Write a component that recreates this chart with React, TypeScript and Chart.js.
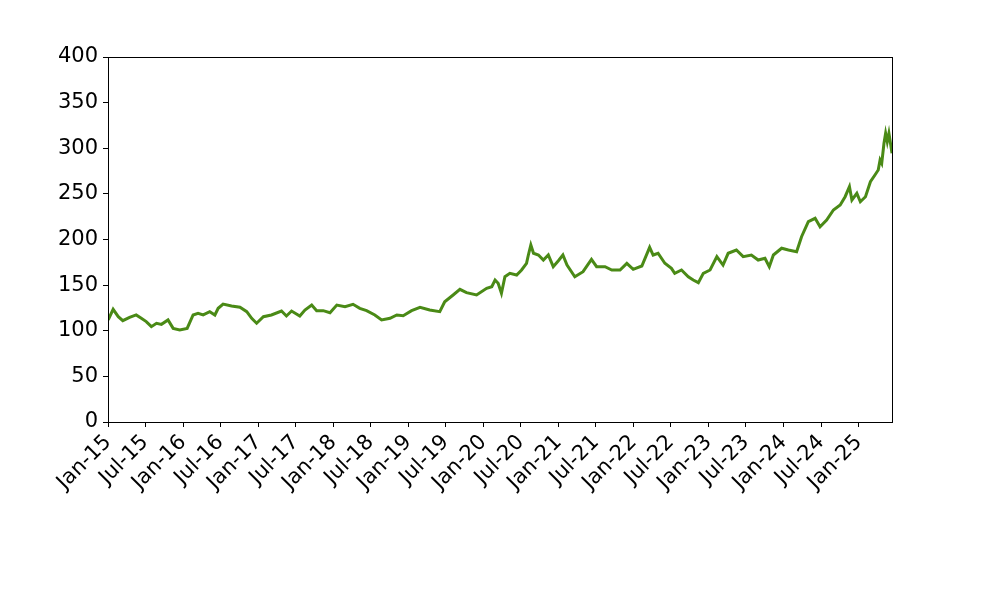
import React, { useEffect, useRef } from "react";
import { Chart, registerables } from "chart.js";

Chart.register(...registerables);

const dates: string[] = [
  "2015-01-02","2015-01-26","2015-02-20","2015-03-14","2015-04-16","2015-05-18","2015-06-12","2015-07-06",
  "2015-07-31","2015-08-25","2015-09-18","2015-10-20","2015-11-14","2015-12-16","2016-01-21","2016-02-19",
  "2016-03-14","2016-04-08","2016-05-10","2016-06-04","2016-06-20","2016-07-14","2016-08-24","2016-10-04",
  "2016-11-06","2016-11-30","2016-12-24","2017-01-26","2017-03-06","2017-04-24","2017-05-18","2017-06-12",
  "2017-07-22","2017-08-16","2017-09-18","2017-10-12","2017-11-13","2017-12-16","2018-01-18","2018-02-27",
  "2018-04-07","2018-05-10","2018-06-12","2018-07-22","2018-08-24","2018-10-04","2018-11-06","2018-12-07",
  "2019-01-17","2019-02-27","2019-04-15","2019-06-03","2019-06-27","2019-08-07","2019-09-09","2019-10-11",
  "2019-11-29","2020-01-17","2020-02-11","2020-02-27","2020-03-13","2020-03-29","2020-04-15","2020-05-09",
  "2020-06-11","2020-07-05","2020-07-29","2020-08-07","2020-08-19","2020-09-01","2020-09-25","2020-10-19",
  "2020-11-12","2020-12-06","2020-12-31","2021-01-22","2021-02-11","2021-03-21","2021-04-30","2021-06-10",
  "2021-07-05","2021-08-15","2021-09-17","2021-10-27","2021-11-29","2021-12-30","2022-02-10","2022-03-20",
  "2022-04-06","2022-04-30","2022-06-02","2022-07-04","2022-07-20","2022-08-22","2022-09-24","2022-10-18",
  "2022-11-12","2022-12-06","2023-01-08","2023-02-10","2023-03-12","2023-04-06","2023-05-16","2023-06-18",
  "2023-07-28","2023-08-30","2023-10-02","2023-10-23","2023-11-12","2023-12-22","2024-01-24","2024-03-04",
  "2024-03-28","2024-04-30","2024-06-02","2024-06-26","2024-07-28","2024-08-30","2024-10-02","2024-10-26",
  "2024-11-16","2024-11-28","2024-12-22","2025-01-08","2025-02-02","2025-02-26","2025-03-20","2025-04-05",
  "2025-04-14","2025-04-22","2025-05-03","2025-05-11","2025-05-19","2025-05-27","2025-06-05","2025-06-11",
];

const prices: number[] = [
  111.8, 123.5, 115.4, 111.0, 114.7, 117.3, 113.6, 110.0,
  104.5, 108.2, 107.0, 111.8, 102.6, 100.8, 102.6, 117.3,
  119.1, 117.3, 120.9, 117.3, 124.6, 129.3, 127.1, 125.7,
  120.9, 113.6, 108.2, 115.4, 117.3, 121.6, 116.2, 121.6,
  116.2, 122.7, 128.2, 122.0, 122.0, 119.8, 128.2, 126.4,
  129.0, 124.6, 122.0, 117.3, 111.8, 113.6, 117.3, 116.5,
  122.0, 125.7, 122.7, 120.9, 131.8, 139.2, 145.4, 141.7,
  139.2, 146.5, 148.3, 155.6, 152.0, 141.0, 159.2, 162.9,
  161.1, 166.6, 173.9, 183.0, 194.0, 184.9, 183.0, 177.5,
  183.0, 170.2, 176.8, 183.0, 172.0, 159.2, 164.7, 178.3,
  170.2, 170.2, 166.6, 166.6, 173.9, 167.3, 171.0, 191.4,
  183.0, 184.9, 173.9, 168.4, 162.9, 166.6, 159.2, 155.6,
  152.7, 162.9, 166.6, 181.2, 172.0, 184.9, 188.5, 181.2,
  183.0, 177.5, 179.4, 170.2, 183.0, 190.4, 188.5, 186.6,
  203.1, 219.5, 223.2, 214.0, 221.4, 232.3, 237.8, 246.9,
  257.9, 243.3, 250.6, 241.4, 246.9, 263.3, 270.7, 276.2,
  287.1, 283.5, 305.4, 316.4, 307.2, 316.4, 303.6, 294.5,
];

const tickDates: string[] = [
  "2015-01-01","2015-07-01","2016-01-01","2016-07-01","2017-01-01","2017-07-01","2018-01-01",
  "2018-07-01","2019-01-01","2019-07-01","2020-01-01","2020-07-01","2021-01-01","2021-07-01",
  "2022-01-01","2022-07-01","2023-01-01","2023-07-01","2024-01-01","2024-07-01","2025-01-01",
];
const tickLabels: string[] = [
  "Jan-15","Jul-15","Jan-16","Jul-16","Jan-17","Jul-17","Jan-18",
  "Jul-18","Jan-19","Jul-19","Jan-20","Jul-20","Jan-21","Jul-21",
  "Jan-22","Jul-22","Jan-23","Jul-23","Jan-24","Jul-24","Jan-25",
];

const yTicks: number[] = [0, 50, 100, 150, 200, 250, 300, 350, 400];

const toDay = (s: string): number => {
  const [y, m, d] = s.split("-").map(Number);
  return (Date.UTC(y, m - 1, d) - Date.UTC(2015, 0, 1)) / 86400000;
};

const FONT = "'DejaVu Sans', sans-serif";

export default function App() {
  const ref = useRef<HTMLCanvasElement | null>(null);

  useEffect(() => {
    if (!ref.current) return;
    const tickDays = tickDates.map(toDay);
    const points = dates.map((d, i) => ({ x: toDay(d), y: prices[i] }));

    const framePlugin = {
      id: "frame",
      afterDraw(chart: any) {
        const { ctx, chartArea } = chart;
        ctx.save();
        ctx.strokeStyle = "#000";
        ctx.lineWidth = 1;
        ctx.strokeRect(
          Math.round(chartArea.left) + 0.5,
          Math.round(chartArea.top) + 0.5,
          Math.round(chartArea.right - chartArea.left),
          Math.round(chartArea.bottom - chartArea.top)
        );
        ctx.restore();
      },
    };

    const bgPlugin = {
      id: "bg",
      beforeDraw(chart: any) {
        const { ctx, width, height } = chart;
        ctx.save();
        ctx.fillStyle = "#fff";
        ctx.fillRect(0, 0, width, height);
        ctx.restore();
      },
    };

    const chart = new Chart(ref.current, {
      type: "line",
      data: {
        datasets: [
          {
            data: points,
            borderColor: "#4a8a16",
            borderWidth: 3,
            pointRadius: 0,
            tension: 0,
            fill: false,
          },
        ],
      },
      options: {
        animation: false,
        responsive: false,
        layout: { padding: { top: 57, right: 108, left: 0, bottom: 0 } },
        plugins: {
          legend: { display: false },
          tooltip: { enabled: false },
        },
        scales: {
          x: {
            type: "linear",
            min: 0,
            max: toDay(dates[dates.length - 1]),
            afterBuildTicks: (scale: any) => {
              scale.ticks = tickDays.map((v) => ({ value: v }));
            },
            afterFit: (scale: any) => {
              scale.height = 178;
            },
            ticks: {
              autoSkip: false,
              minRotation: 45,
              maxRotation: 45,
              padding: 3,
              color: "#000",
              font: { family: FONT, size: 21 },
              callback: (v: any) => {
                const i = tickDays.indexOf(Number(v));
                return i >= 0 ? tickLabels[i] : "";
              },
            },
            grid: {
              display: true,
              drawOnChartArea: false,
              drawTicks: true,
              tickLength: 5,
              color: "#000",
            },
            border: { display: false },
          },
          y: {
            type: "linear",
            min: 0,
            max: 400,
            afterBuildTicks: (scale: any) => {
              scale.ticks = yTicks.map((v) => ({ value: v }));
            },
            afterFit: (scale: any) => {
              scale.width = 108;
            },
            ticks: {
              padding: 5,
              color: "#000",
              font: { family: FONT, size: 21 },
            },
            grid: {
              display: true,
              drawOnChartArea: false,
              drawTicks: true,
              tickLength: 5,
              color: "#000",
            },
            border: { display: false },
          },
        },
      },
      plugins: [bgPlugin, framePlugin],
    } as any);

    return () => chart.destroy();
  }, []);

  return (
    <div style={{ position: "fixed", left: 0, top: 0, width: 1000, height: 600, background: "#fff" }}>
      <canvas ref={ref} width={1000} height={600} style={{ display: "block" }} />
    </div>
  );
}
